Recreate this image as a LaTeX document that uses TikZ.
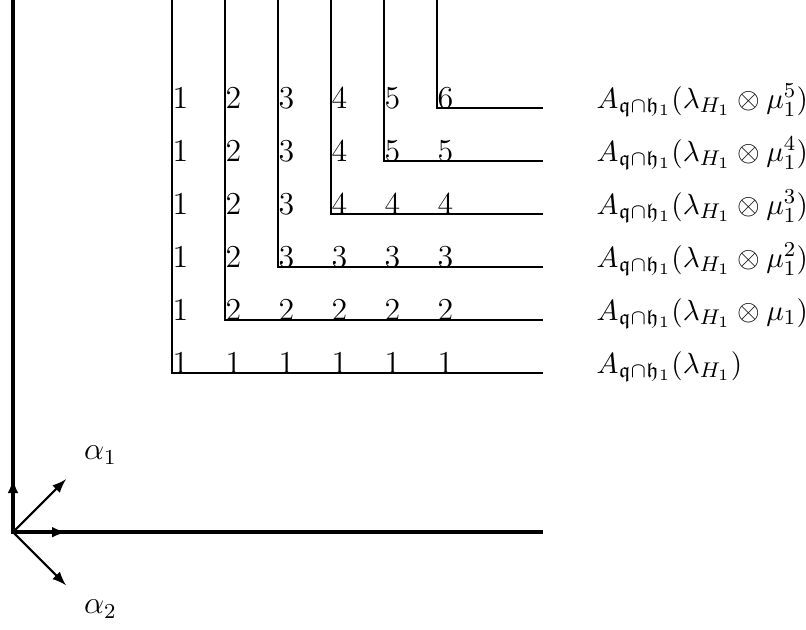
\documentclass[tikz,border=0pt]{standalone}
\usepackage{amssymb}
\begin{document}
\begin{tikzpicture}[x=0.7cm,y=0.7cm,
  axis/.style={line width=1.6pt},
  stair/.style={line width=0.6pt},
  vec/.style={line width=0.8pt,-latex},
  num/.style={anchor=base west,inner sep=0pt,font=\large},
  lab/.style={anchor=base west,inner sep=0pt,font=\fontsize{11.3}{13}\selectfont}]
\useasboundingbox (-0.245,-1.83) rectangle (14.96,10.04);
\coordinate (O) at (0,0);
\coordinate (Ytop) at (0,10.1);
\coordinate (Xend) at (10,0);
\coordinate (e1) at (0,1);
\coordinate (e2) at (1,0);
\coordinate (a1) at (1,1);
\coordinate (a2) at (1,-1);
\draw[axis] (Ytop) -- (O) -- (Xend);
\draw[vec] (O) -- (e1);
\draw[vec] (O) -- (e2);
\draw[vec] (O) -- (a1);
\draw[vec] (O) -- (a2);
\node[font=\large] (la1) at (1.65,1.45) {$\alpha_1$};
\node[font=\large] (la2) at (1.65,-1.45) {$\alpha_2$};
\foreach \i in {3,...,8}{
  \coordinate (t\i) at (\i,10.1);
  \coordinate (c\i) at (\i,\i);
  \coordinate (r\i) at (10,\i);
  \draw[stair] (t\i) -- (c\i) -- (r\i);
}
\foreach \j in {3,...,8}{
  \foreach \i in {3,...,8}{
    \pgfmathtruncatemacro{\v}{min(\i-2,\j-2)}
    \node[num] (n\i\j) at (\i,\j) {$\v$};
  }
}
\node[lab] (L8) at (11,8) {$A_{\mathfrak q\cap\mathfrak h_1}(\lambda_{H_1}\otimes\mu_1^5)$};
\node[lab] (L7) at (11,7) {$A_{\mathfrak q\cap\mathfrak h_1}(\lambda_{H_1}\otimes\mu_1^4)$};
\node[lab] (L6) at (11,6) {$A_{\mathfrak q\cap\mathfrak h_1}(\lambda_{H_1}\otimes\mu_1^3)$};
\node[lab] (L5) at (11,5) {$A_{\mathfrak q\cap\mathfrak h_1}(\lambda_{H_1}\otimes\mu_1^2)$};
\node[lab] (L4) at (11,4) {$A_{\mathfrak q\cap\mathfrak h_1}(\lambda_{H_1}\otimes\mu_1)$};
\node[lab] (L3) at (11,3) {$A_{\mathfrak q\cap\mathfrak h_1}(\lambda_{H_1})$};
\end{tikzpicture}
\end{document}
